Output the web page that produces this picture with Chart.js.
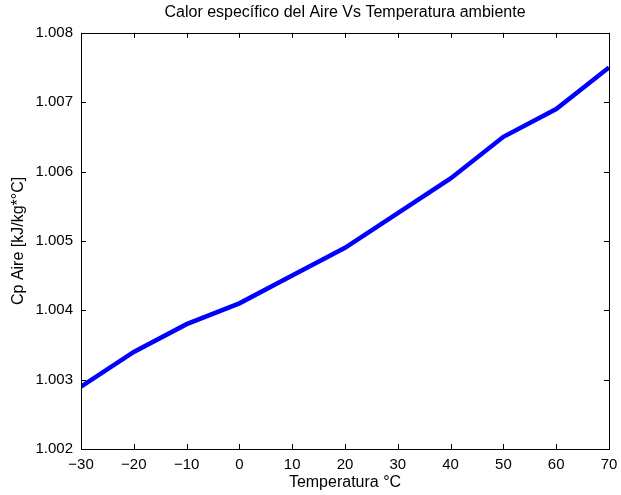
<!DOCTYPE html>
<html>
<head>
<meta charset="utf-8">
<script src="https://cdn.jsdelivr.net/npm/chart.js@4.4.0/dist/chart.umd.min.js"></script>
<style>
  html, body { margin: 0; padding: 0; background: #fff; }
  #wrap { width: 621px; height: 495px; }
</style>
</head>
<body>
<div id="wrap"><canvas id="chart" width="621" height="495"></canvas></div>
<script>
// Temperature (°C) and specific heat of air (kJ/kg*°C)
const temps = [-30, -20, -10, 0, 10, 20, 30, 40, 50, 60, 70]
const cpValues = [1.0029, 1.0034, 1.0038, 1.0041, 1.0045, 1.0049, 1.0054, 1.0059, 1.0065, 1.0069, 1.0075]
const xTicks = [-30, -20, -10, 0, 10, 20, 30, 40, 50, 60, 70]
const yTicks = [1.002, 1.003, 1.004, 1.005, 1.006, 1.007, 1.008]

const font = 'Liberation Sans, Arial, Helvetica, sans-serif'

// box around the plot with ticks pointing inward (matlab style)
const boxPlugin = {
  id: 'box',
  afterDraw(chart) {
    const ctx = chart.ctx
    const a = chart.chartArea
    const xs = chart.scales.x
    const ys = chart.scales.y
    const len = 5
    ctx.save()
    ctx.strokeStyle = '#000'
    ctx.lineWidth = 1
    ctx.beginPath()
    xTicks.forEach(v => {
      const px = Math.round(xs.getPixelForValue(v)) + 0.5
      ctx.moveTo(px, a.bottom); ctx.lineTo(px, a.bottom - len)
      ctx.moveTo(px, a.top); ctx.lineTo(px, a.top + len)
    })
    yTicks.forEach(v => {
      const py = Math.round(ys.getPixelForValue(v)) + 0.5
      ctx.moveTo(a.left, py); ctx.lineTo(a.left + len, py)
      ctx.moveTo(a.right, py); ctx.lineTo(a.right - len, py)
    })
    ctx.stroke()
    ctx.strokeRect(Math.round(a.left) + 0.5, Math.round(a.top) + 0.5,
      Math.round(a.right - a.left), Math.round(a.bottom - a.top))
    ctx.restore()
  }
}

new Chart(document.getElementById('chart'), {
  type: 'line',
  data: {
    datasets: [{
      data: temps.map((t, i) => ({ x: t, y: cpValues[i] })),
      borderColor: '#0000ff',
      borderWidth: 4.5,
      pointRadius: 0,
      tension: 0,
      fill: false
    }]
  },
  options: {
    responsive: false,
    animation: false,
    layout: { padding: { top: 0, left: 0, right: 12, bottom: 0 } },
    plugins: {
      legend: { display: false },
      tooltip: { enabled: false },
      title: {
        display: true,
        fullSize: false,
        text: 'Calor específico del Aire Vs Temperatura ambiente',
        color: '#000',
        font: { family: font, size: 16, weight: 'normal' },
        padding: { top: 3.2, bottom: 10.4 }
      }
    },
    scales: {
      x: {
        type: 'linear',
        min: -30,
        max: 70,
        // fixed size, no extra padding for the end labels
        afterFit: s => { s.height = 46; s.paddingLeft = 0; s.paddingRight = 0 },
        afterBuildTicks: s => { s.ticks = xTicks.map(v => ({ value: v })) },
        grid: { display: false, drawTicks: false },
        border: { display: false },
        ticks: {
          color: '#000',
          padding: 7,
          maxRotation: 0,
          font: { family: font, size: 15 },
          callback: v => v < 0 ? '\u2212' + Math.abs(v) : String(v)
        },
        title: {
          display: true,
          text: 'Temperatura °C',
          color: '#000',
          font: { family: font, size: 16 },
          padding: { top: 0, bottom: 2.4 }
        }
      },
      y: {
        min: 1.002,
        max: 1.008,
        afterFit: s => { s.width = 81; s.paddingTop = 0; s.paddingBottom = 0 },
        afterBuildTicks: s => { s.ticks = yTicks.map(v => ({ value: v })) },
        grid: { display: false, drawTicks: false },
        border: { display: false },
        ticks: {
          color: '#000',
          padding: 8,
          font: { family: font, size: 15 },
          callback: v => v.toFixed(3)
        },
        title: {
          display: true,
          text: 'Cp Aire [kJ/kg*°C]',
          color: '#000',
          font: { family: font, size: 16 },
          padding: { top: 9, bottom: 0 }
        }
      }
    }
  },
  plugins: [boxPlugin]
})
</script>
</body>
</html>
